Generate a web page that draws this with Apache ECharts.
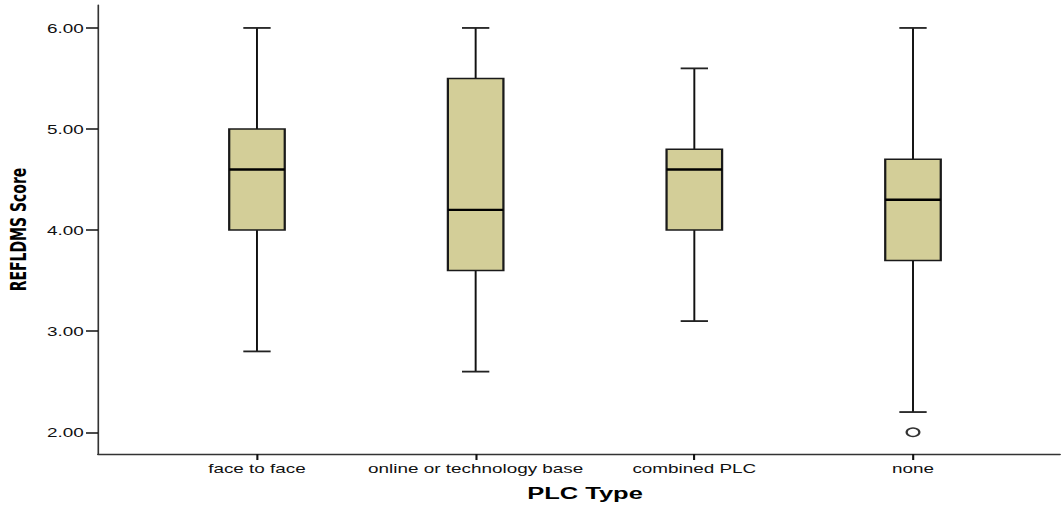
<!DOCTYPE html>
<html>
<head>
<meta charset="utf-8">
<script src="https://cdn.jsdelivr.net/npm/echarts@6/dist/echarts.min.js"></script>
<style>
  html, body { margin: 0; padding: 0; background: #fff; overflow: hidden; }
  /* The chart is laid out on a narrower canvas and widened horizontally,
     giving the broad, stretched lettering of the original SPSS export. */
  #chart {
    width: 707px;
    height: 505px;
    transform: scaleX(1.50071);
    transform-origin: 0 0;
  }
</style>
</head>
<body>
<div id="chart"></div>
<script>
// REFLDMS score distribution by PLC type
const categories = ['face to face', 'online or technology base', 'combined PLC', 'none'];
const minVals    = [2.8, 2.6, 3.1, 2.2];
const q1Vals     = [4.0, 3.6, 4.0, 3.7];
const medianVals = [4.6, 4.2, 4.6, 4.3];
const q3Vals     = [5.0, 5.5, 4.8, 4.7];
const maxVals    = [6.0, 6.0, 5.6, 6.0];
// outliers as [category index, value]
const outliers   = [[3, 2.0]];
const yTickValues = [2, 3, 4, 5, 6];

const boxData = categories.map((c, i) => [i, minVals[i], q1Vals[i], medianVals[i], q3Vals[i], maxVals[i]]);

const BOX_HALF = 0.127;   // box half-width in category units
const CAP_HALF = 0.0625;  // whisker cap half-width in category units
const FILL = '#d3ce98';

function renderBox(params, api) {
  const x = api.value(0);
  const lo = api.value(1), q1 = api.value(2), med = api.value(3), q3 = api.value(4), hi = api.value(5);
  const pLeftQ3 = api.coord([x - BOX_HALF, q3]);
  const pRightQ1 = api.coord([x + BOX_HALF, q1]);
  const pTop = api.coord([x, hi]);
  const pBot = api.coord([x, lo]);
  const pQ3 = api.coord([x, q3]);
  const pQ1 = api.coord([x, q1]);
  const pMedL = api.coord([x - BOX_HALF, med]);
  const pMedR = api.coord([x + BOX_HALF, med]);
  const capL = api.coord([x - CAP_HALF, hi])[0];
  const capR = api.coord([x + CAP_HALF, hi])[0];
  const whisker = { stroke: '#111', lineWidth: 1.3 };
  const cap = { stroke: '#222', lineWidth: 1.8 };
  return {
    type: 'group',
    children: [
      { type: 'line', shape: { x1: pTop[0], y1: pTop[1], x2: pQ3[0], y2: pQ3[1] }, style: whisker },
      { type: 'line', shape: { x1: pQ1[0], y1: pQ1[1], x2: pBot[0], y2: pBot[1] }, style: whisker },
      { type: 'line', shape: { x1: capL, y1: pTop[1], x2: capR, y2: pTop[1] }, style: cap },
      { type: 'line', shape: { x1: capL, y1: pBot[1], x2: capR, y2: pBot[1] }, style: cap },
      { type: 'rect', shape: { x: pLeftQ3[0], y: pLeftQ3[1], width: pRightQ1[0] - pLeftQ3[0], height: pRightQ1[1] - pLeftQ3[1] },
        style: { fill: FILL, stroke: '#1a1a1a', lineWidth: 1.5 } },
      { type: 'line', shape: { x1: pMedL[0], y1: pMedL[1], x2: pMedR[0], y2: pMedR[1] }, style: { stroke: '#000', lineWidth: 2.4 } }
    ]
  };
}

const chart = echarts.init(document.getElementById('chart'), null, { renderer: 'svg' });
const labelFont = { fontFamily: 'Liberation Sans, Arial, sans-serif', fontSize: 12.6, color: '#111' };

chart.setOption({
  animation: false,
  backgroundColor: '#fff',
  grid: { left: 65.3, right: 0.7, top: 5, bottom: 51, containLabel: false, outerBoundsMode: 'none' },
  xAxis: {
    type: 'value',
    min: -0.727,
    max: 3.672,
    name: 'PLC Type',
    nameLocation: 'middle',
    nameGap: 31,
    nameTextStyle: { fontFamily: 'Liberation Sans, Arial, sans-serif', fontSize: 17, fontWeight: 'bold', color: '#000', padding: [0, 0, 0, 8] },
    splitLine: { show: false },
    axisLine: { show: true, onZero: false, lineStyle: { color: '#333', width: 1.3 } },
    axisTick: { show: true, customValues: [0, 1, 2, 3], length: 6, lineStyle: { color: '#111', width: 1.4 } },
    axisLabel: {
      show: true,
      customValues: [0, 1, 2, 3],
      formatter: v => categories[Math.round(v)] || '',
      margin: 8,
      ...labelFont
    }
  },
  yAxis: {
    type: 'value',
    min: 1.785,
    max: 6.227,
    name: 'REFLDMS Score',
    nameLocation: 'middle',
    nameGap: 46,
    nameRotate: 90,
    nameTextStyle: { fontFamily: 'DejaVu Sans, Liberation Sans, sans-serif', fontSize: 14, fontWeight: 'bold', color: '#000' },
    splitLine: { show: false },
    axisLine: { show: true, onZero: false, lineStyle: { color: '#333', width: 1.1 } },
    axisTick: { show: true, customValues: yTickValues, length: 8, lineStyle: { color: '#111', width: 1.5 } },
    axisLabel: {
      show: true,
      customValues: yTickValues,
      formatter: v => v.toFixed(2),
      margin: 9.5,
      ...labelFont
    }
  },
  series: [
    {
      type: 'custom',
      renderItem: renderBox,
      encode: { x: 0, y: [1, 2, 3, 4, 5] },
      data: boxData,
      clip: false
    },
    {
      type: 'scatter',
      data: outliers,
      symbol: 'circle',
      symbolSize: 8.5,
      itemStyle: { color: '#fff', borderColor: '#000', borderWidth: 1.5 }
    }
  ]
});
</script>
</body>
</html>
